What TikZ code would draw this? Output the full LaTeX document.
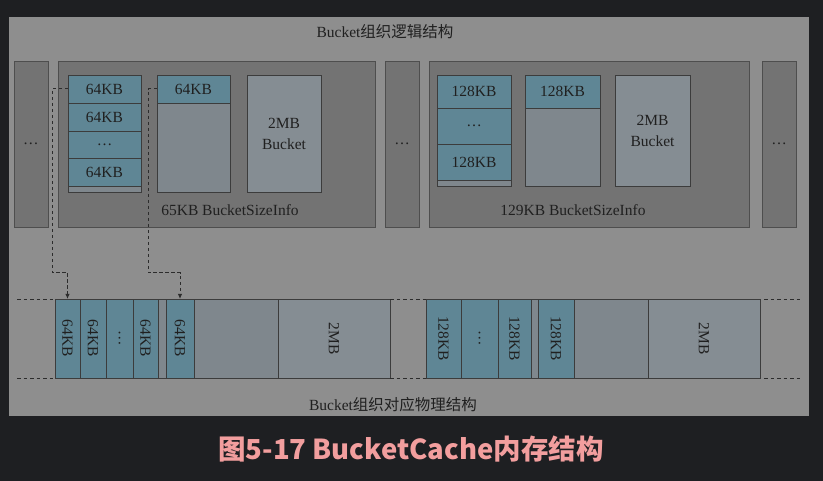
\documentclass[tikz,border=0pt]{standalone}
\usepackage{fontspec}
\usepackage{graphicx}
\setmainfont{Liberation Serif}
\newfontfamily\cjk{Noto Sans CJK SC}
\usetikzlibrary{arrows.meta}
\definecolor{bgc}{HTML}{1E1F22}
\definecolor{panelc}{HTML}{8E8E8E}
\definecolor{outerc}{HTML}{737373}
\definecolor{outerb}{HTML}{4E4E4E}
\definecolor{bordc}{HTML}{3C3C3C}
\definecolor{tealc}{HTML}{5F8695}
\definecolor{lightc}{HTML}{7F878D}
\definecolor{bigc}{HTML}{858D93}
\definecolor{txtc}{HTML}{202020}
\definecolor{capc}{HTML}{F29E9E}
\definecolor{connc}{HTML}{2C2C2C}
\newcommand\fnt{\fontsize{15.5}{21}\selectfont}
\newcommand\mybox[7]{\node[#1, minimum width={#4-#3}, minimum height={#6-#5}] (#2) at ({(#3+#4)/2},{(#5+#6)/2}) {#7};}
\newcommand\vt[1]{\rotatebox{-90}{#1}}
\begin{document}
\begin{tikzpicture}[x=1pt,y=-1pt,
  box/.style={draw=bordc, line width=0.8pt, inner sep=0pt, outer sep=0pt, text=txtc, font=\fnt, align=center},
  tealbox/.style={box, fill=tealc},
  lightbox/.style={box, fill=lightc},
  bigbox/.style={box, fill=bigc},
  outerbox/.style={box, fill=outerc, draw=outerb},
  lbl/.style={text=txtc, font=\fnt, inner sep=0pt},
  conn/.style={draw=connc, line width=1pt, dash pattern=on 3.5pt off 2.5pt, -{Latex[length=5pt,width=4.5pt]}},
  guide/.style={draw=connc, line width=0.9pt, dash pattern=on 3.5pt off 3pt}]
\fill[bgc] (0,0) rectangle (823,481);
\useasboundingbox (0,0) rectangle (823,481);
\fill[panelc] (9,17) rectangle (809,416);
% titles
\node[lbl] (ttop) at (385,32) {Bucket{\cjk 组织逻辑结构}};
\node[lbl] (tbot) at (393,405) {Bucket{\cjk 组织对应物理结构}};
\node[inner sep=0pt, text=capc, font={\cjk\bfseries\fontsize{27.5}{30}\selectfont}] (cap) at (411,449) {图5-17 BucketCache内存结构};
% top outer boxes
\mybox{outerbox}{dotsL}{14}{48}{61}{227}{\dots}
\mybox{outerbox}{info65}{58}{375}{61}{227}{}
\mybox{outerbox}{dotsM}{385}{419}{61}{227}{\dots}
\mybox{outerbox}{info129}{429}{749}{61}{227}{}
\mybox{outerbox}{dotsR}{762}{796}{61}{227}{\dots}
\node[lbl] (l65) at (230,210) {65KB BucketSizeInfo};
\node[lbl] (l129) at (573,210) {129KB BucketSizeInfo};
% 65KB contents
\mybox{tealbox}{a1}{68}{141}{75}{103}{64KB}
\mybox{tealbox}{a2}{68}{141}{103}{131}{64KB}
\mybox{tealbox}{a3}{68}{141}{131}{158}{\dots}
\mybox{tealbox}{a4}{68}{141}{158}{186}{64KB}
\mybox{lightbox}{a5}{68}{141}{186}{192}{}
\mybox{lightbox}{s1}{157}{230}{103}{192}{}
\mybox{tealbox}{s1t}{157}{230}{75}{103}{64KB}
\mybox{bigbox}{m1}{247}{321}{75}{192}{2MB\\Bucket}
% 129KB contents
\mybox{tealbox}{e1}{437}{511}{75}{108}{128KB}
\mybox{tealbox}{e2}{437}{511}{108}{144}{\dots}
\mybox{tealbox}{e3}{437}{511}{144}{180}{128KB}
\mybox{lightbox}{e4}{437}{511}{180}{186}{}
\mybox{lightbox}{s2}{525}{600}{108}{186}{}
\mybox{tealbox}{s2t}{525}{600}{75}{108}{128KB}
\mybox{bigbox}{m2}{615}{690}{75}{186}{2MB\\Bucket}
% bottom row left group
\mybox{tealbox}{b1}{55}{80}{299}{378}{\vt{64KB}}
\mybox{tealbox}{b2}{80}{106}{299}{378}{\vt{64KB}}
\mybox{tealbox}{b3}{106}{133}{299}{378}{\vt{\dots}}
\mybox{tealbox}{b4}{133}{158}{299}{378}{\vt{64KB}}
\mybox{lightbox}{bs}{158}{166}{299}{378}{}
\mybox{tealbox}{b5}{166}{194}{299}{378}{\vt{64KB}}
\mybox{lightbox}{b6}{194}{278}{299}{378}{}
\mybox{bigbox}{b7}{278}{390}{299}{378}{\vt{2MB}}
% bottom row right group
\mybox{tealbox}{r1}{426}{461}{299}{378}{\vt{128KB}}
\mybox{tealbox}{r2}{461}{498}{299}{378}{\vt{\dots}}
\mybox{tealbox}{r3}{498}{531}{299}{378}{\vt{128KB}}
\mybox{lightbox}{rs}{531}{538}{299}{378}{}
\mybox{tealbox}{r4}{538}{574}{299}{378}{\vt{128KB}}
\mybox{lightbox}{r5}{574}{648}{299}{378}{}
\mybox{bigbox}{r6}{648}{760}{299}{378}{\vt{2MB}}
% dashed guide lines
\coordinate (gl1) at (17,299);
\coordinate (gl2) at (17,378);
\coordinate (gr1) at (801,299);
\coordinate (gr2) at (801,378);
\draw[guide] (gl1) -- (b1.north west);
\draw[guide] (gl2) -- (b1.south west);
\draw[guide] (b7.north east) -- (r1.north west);
\draw[guide] (b7.south east) -- (r1.south west);
\draw[guide] ([xshift=4pt]r6.north east) -- (gr1);
\draw[guide] ([xshift=4pt]r6.south east) -- (gr2);
% connectors
\coordinate (k1) at (52,273);
\coordinate (k2) at (148,273);
\draw[conn] (a1.west) -| (k1) -| (b1.north);
\draw[conn] (s1t.west) -| (k2) -| (b5.north);
\end{tikzpicture}
\end{document}
